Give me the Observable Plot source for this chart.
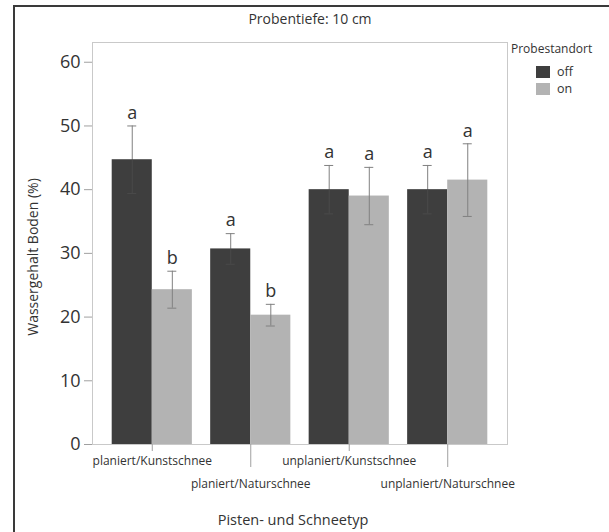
<!DOCTYPE html>
<html>
<head>
<meta charset="utf-8">
<script src="https://cdn.jsdelivr.net/npm/d3@7"></script>
<script src="https://cdn.jsdelivr.net/npm/@observablehq/plot@0.6"></script>
<style>
  html, body { margin: 0; padding: 0; background: #fff; overflow: hidden; }
  #wrap { position: relative; width: 609px; height: 532px; font-family: "Open Sans", sans-serif; color: #333; overflow: hidden; }
  #chart { position: absolute; left: 0; top: 0; }
  #border { position: absolute; left: 13px; top: 5px; width: 660px; height: 620px; border: 2px solid #3a3a3a; box-sizing: border-box; }
  .lbl { position: absolute; white-space: nowrap; color: #333; }
  #title { left: 310px; top: 18px; transform: translate(-50%, -50%); font-size: 14px; }
  #ylabel { left: 32px; top: 257px; transform: translate(-50%, -50%) rotate(-90deg); font-size: 14px; }
  #xlabel { left: 293px; top: 519px; transform: translate(-50%, -50%); font-size: 14.5px; }
  #legend { position: absolute; left: 511px; top: 40px; font-size: 12px; }
  #legend .ttl { margin-bottom: 6px; }
  #legend .row { display: flex; align-items: center; height: 17px; margin-left: 25px; font-size: 12.5px; }
  #legend .sw { width: 14px; height: 12px; margin-right: 7px; }
</style>
</head>
<body>
<div id="wrap">
  <div id="chart"></div>
  <div id="border"></div>
  <div class="lbl" id="title"></div>
  <div class="lbl" id="ylabel"></div>
  <div class="lbl" id="xlabel"></div>
  <div id="legend"></div>
</div>
<script>
// ---- data ----
const categories = ["planiert/Kunstschnee", "planiert/Naturschnee", "unplaniert/Kunstschnee", "unplaniert/Naturschnee"];
const standorte = ["off", "on"];
const standortColors = ["#3e3e3e", "#b3b3b3"];
const offMean = [44.7, 30.7, 40.0, 40.0];
const offErr = [5.3, 2.4, 3.8, 3.8];
const onMean = [24.3, 20.3, 39.0, 41.5];
const onErr = [2.9, 1.7, 4.5, 5.7];
const offLetters = ["a", "a", "a", "a"];
const onLetters = ["b", "b", "a", "a"];
const yTicks = [0, 10, 20, 30, 40, 50, 60];
const titleText = "Probentiefe: 10 cm";
const yLabelText = "Wassergehalt Boden (%)";
const xLabelText = "Pisten- und Schneetyp";
const legendTitle = "Probestandort";

// ---- table ----
const offData = categories.map((c, i) => ({cat: c, std: standorte[0], mean: offMean[i], err: offErr[i], letter: offLetters[i]}));
const onData = categories.map((c, i) => ({cat: c, std: standorte[1], mean: onMean[i], err: onErr[i], letter: onLetters[i]}));

// ---- layout ----
const W = 609, H = 532;
const mTop = 42, mRight = 102, mBottom = 88, mLeft = 92;
const pInner = 0.186, pOuter = 0.2;
const plotW = W - mLeft - mRight;
const step = plotW / (categories.length - pInner + 2 * pOuter);
const bw = step * (1 - pInner);
const half = bw / 2;
const capHalf = 4.5;
const errColor = "#808080";
const errInDark = "#4a4a4a";

const chart = Plot.plot({
  width: W, height: H,
  marginTop: mTop, marginRight: mRight, marginBottom: mBottom, marginLeft: mLeft,
  style: {background: "transparent", fontFamily: "Open Sans, sans-serif", color: "#333"},
  x: {type: "band", domain: categories, paddingInner: pInner, paddingOuter: pOuter, round: false},
  y: {domain: [0, 63.1]},
  color: {domain: standorte, range: standortColors},
  marks: [
    Plot.frame({stroke: "#c9c9c9"}),
    Plot.barY(offData, {x: "cat", y: "mean", fill: "std", insetRight: half, insetLeft: 0}),
    Plot.barY(onData, {x: "cat", y: "mean", fill: "std", insetLeft: half, insetRight: 0}),
    // error bars: off (upper part over white, lower part hidden in the dark bar)
    Plot.ruleX(offData, {x: "cat", y1: "mean", y2: d => d.mean + d.err, dx: -half / 2, stroke: errColor, strokeWidth: 1}),
    Plot.ruleX(offData, {x: "cat", y1: d => d.mean - d.err, y2: "mean", dx: -half / 2, stroke: errInDark, strokeWidth: 1}),
    Plot.tickY(offData, {x: "cat", y: d => d.mean + d.err, insetLeft: half / 2 - capHalf, insetRight: bw - half / 2 - capHalf, stroke: errColor}),
    Plot.tickY(offData, {x: "cat", y: d => d.mean - d.err, insetLeft: half / 2 - capHalf, insetRight: bw - half / 2 - capHalf, stroke: errInDark}),
    // error bars: on
    Plot.ruleX(onData, {x: "cat", y1: d => d.mean - d.err, y2: d => d.mean + d.err, dx: half / 2, stroke: errColor, strokeWidth: 1}),
    Plot.tickY(onData, {x: "cat", y: d => d.mean + d.err, insetLeft: bw - half / 2 - capHalf, insetRight: half / 2 - capHalf, stroke: errColor}),
    Plot.tickY(onData, {x: "cat", y: d => d.mean - d.err, insetLeft: bw - half / 2 - capHalf, insetRight: half / 2 - capHalf, stroke: errColor}),
    // significance letters
    Plot.text(offData, {x: "cat", y: d => d.mean + d.err, text: "letter", dx: -half / 2, dy: -13, fontSize: 18, fill: "#333"}),
    Plot.text(onData, {x: "cat", y: d => d.mean + d.err, text: "letter", dx: half / 2, dy: -13, fontSize: 18, fill: "#333"}),
    // axes
    Plot.axisY({ticks: yTicks, tickSize: 8, tickPadding: 4, fontSize: 18, stroke: "#a0a0a0", fill: "#333", label: null}),
    Plot.axisX({ticks: [categories[0], categories[2]], tickSize: 7, tickPadding: 5, fontSize: 12, stroke: "#a0a0a0", fill: "#333", label: null}),
    Plot.axisX({ticks: [categories[1], categories[3]], tickSize: 23, tickPadding: 12, fontSize: 12, stroke: "#a0a0a0", fill: "#333", label: null})
  ]
});
document.getElementById("chart").appendChild(chart);

document.getElementById("title").textContent = titleText;
document.getElementById("ylabel").textContent = yLabelText;
document.getElementById("xlabel").textContent = xLabelText;

const legend = document.getElementById("legend");
const t = document.createElement("div");
t.className = "ttl";
t.textContent = legendTitle;
legend.appendChild(t);
standorte.forEach((s, i) => {
  const row = document.createElement("div");
  row.className = "row";
  const sw = document.createElement("div");
  sw.className = "sw";
  sw.style.background = standortColors[i];
  const tx = document.createElement("span");
  tx.textContent = s;
  row.appendChild(sw);
  row.appendChild(tx);
  legend.appendChild(row);
});
</script>
</body>
</html>
